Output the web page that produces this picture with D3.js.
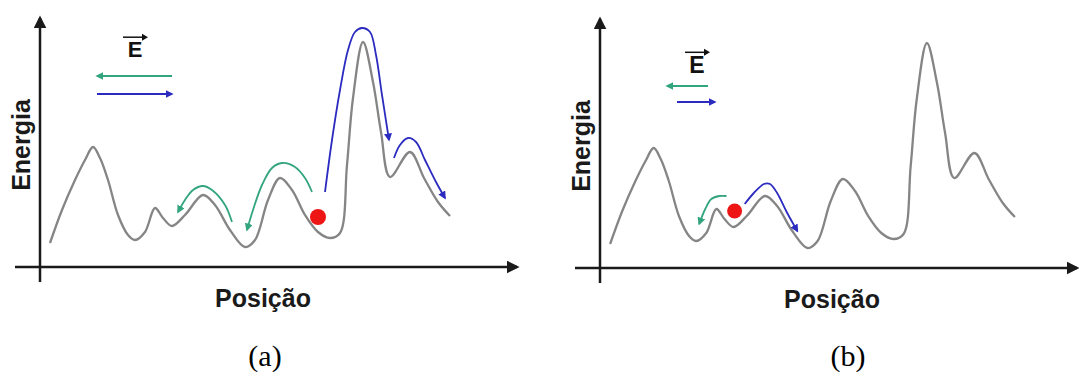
<!DOCTYPE html>
<html>
<head>
<meta charset="utf-8">
<script src="https://cdn.jsdelivr.net/npm/d3@7"></script>
<style>
  body { margin: 0; background: #fff; }
  svg { display: block; }
</style>
</head>
<body>
<svg id="chart" width="1079" height="372"></svg>
<script>
// energy profile shared by both panels (position, energy in arbitrary units)
var position = [10, 22, 35, 45, 53, 60, 68, 78, 88, 95, 105, 115, 123, 132, 145, 163, 175, 190, 205, 215,
                228, 240, 252, 265, 278, 290, 300, 307, 313, 323, 333, 341, 350, 370, 384, 398, 410];
var energy   = [24, 57, 87, 107, 120, 109, 87, 52, 32, 27, 35, 59, 49, 41, 52, 72, 62, 37, 20, 27,
                67, 89, 77, 52, 35, 29, 34, 102, 169, 225, 185, 135, 90, 115, 89, 65, 51];

// hopping paths (a)
var greenA1 = [[192,45],[185,62],[172,77],[163,81],[153,77],[145,67],[138,55]];
var greenA2 = [[272,75],[265,89],[255,100],[242,104],[232,99],[222,82],[213,57],[207,37]];
var blueA1  = [[285,75],[292,127],[300,177],[308,217],[315,235],[322,239],[330,235],[336,212],[342,172],[349,127]];
var blueA2  = [[354,109],[360,122],[368,129],[376,125],[385,107],[396,85],[405,69]];
var carrierA = [278, 50];

// hopping paths (b)
var greenB = [[125,72],[118,72],[110,69],[104,59],[98,44]];
var blueB  = [[143,64],[152,75],[162,84],[168,84],[175,75],[185,55],[195,37]];
var carrierB = [133, 57];

var panelLabels = ['(a)', '(b)'];
var xLabel = 'Posição';
var yLabel = 'Energia';

var GREEN = '#33a57e', BLUE = '#2b2bc0', GRAY = '#858585', RED = '#ee1515';

var svg = d3.select('#chart');
var defs = svg.append('defs');

function marker(id, color, size) {
    defs.append('marker')
        .attr('id', id)
        .attr('viewBox', '0 -5 10 10')
        .attr('refX', 8)
        .attr('markerWidth', size)
        .attr('markerHeight', size)
        .attr('markerUnits', 'userSpaceOnUse')
        .attr('orient', 'auto')
      .append('path')
        .attr('d', 'M0,-5L10,0L0,5Z')
        .attr('fill', color);
}
marker('head-axis', '#1a1a1a', 13);
marker('head-green', GREEN, 8);
marker('head-blue', BLUE, 8);

var profile = position.map(function(p, i) { return [p, energy[i]]; });

function drawPanel(cfg) {
    var x = d3.scaleLinear().domain([0, 440]).range([cfg.ox, cfg.ox + 440 * cfg.sx]);
    var y = d3.scaleLinear().domain([0, 250]).range([cfg.oy, cfg.oy - 250]);
    var g = svg.append('g');

    // axes
    g.append('line')
        .attr('x1', cfg.ox).attr('y1', cfg.oy + 15)
        .attr('x2', cfg.ox).attr('y2', cfg.oy - 249)
        .attr('stroke', '#1a1a1a').attr('stroke-width', 2.5)
        .attr('marker-end', 'url(#head-axis)');
    g.append('line')
        .attr('x1', cfg.ox - 25).attr('y1', cfg.oy)
        .attr('x2', cfg.ox + 477).attr('y2', cfg.oy)
        .attr('stroke', '#1a1a1a').attr('stroke-width', 2.5)
        .attr('marker-end', 'url(#head-axis)');

    g.append('text')
        .attr('transform', 'translate(' + (cfg.ox - 10) + ',' + (cfg.oy - 122) + ') rotate(-90)')
        .attr('text-anchor', 'middle')
        .attr('font-family', 'Liberation Sans, Arial, sans-serif')
        .attr('font-weight', 'bold')
        .attr('font-size', 25)
        .attr('fill', '#1a1a1a')
        .text(yLabel);
    g.append('text')
        .attr('x', cfg.xLabelX).attr('y', cfg.oy + 40)
        .attr('text-anchor', 'middle')
        .attr('font-family', 'Liberation Sans, Arial, sans-serif')
        .attr('font-weight', 'bold')
        .attr('font-size', 25)
        .attr('fill', '#1a1a1a')
        .text(xLabel);
    g.append('text')
        .attr('x', cfg.capX).attr('y', 366)
        .attr('text-anchor', 'middle')
        .attr('font-family', 'Liberation Serif, Times New Roman, serif')
        .attr('font-size', 30)
        .attr('fill', '#000')
        .text(cfg.caption);

    var line = d3.line()
        .x(function(d) { return x(d[0]); })
        .y(function(d) { return y(d[1]); })
        .curve(d3.curveCatmullRom.alpha(0.5));

    g.append('path')
        .datum(profile)
        .attr('d', line)
        .attr('fill', 'none')
        .attr('stroke', GRAY)
        .attr('stroke-width', 2.3)
        .attr('stroke-linejoin', 'round');

    cfg.paths.forEach(function(p) {
        g.append('path')
            .datum(p.pts)
            .attr('d', line)
            .attr('fill', 'none')
            .attr('stroke', p.color)
            .attr('stroke-width', 1.8)
            .attr('marker-end', 'url(#' + p.head + ')');
    });

    g.append('circle')
        .attr('cx', x(cfg.carrier[0]))
        .attr('cy', y(cfg.carrier[1]))
        .attr('r', cfg.r)
        .attr('fill', RED);

    // field legend
    var L = cfg.legend;
    g.append('text')
        .attr('x', L.ex).attr('y', L.ey)
        .attr('text-anchor', 'middle')
        .attr('font-family', 'Liberation Sans, Arial, sans-serif')
        .attr('font-weight', 'bold')
        .attr('font-size', L.size)
        .attr('fill', '#111')
        .text('E');
    g.append('line')
        .attr('x1', L.ex - 12).attr('x2', L.ex + 8)
        .attr('y1', L.ey - L.size * 0.9).attr('y2', L.ey - L.size * 0.9)
        .attr('stroke', '#111').attr('stroke-width', 1.5);
    g.append('path')
        .attr('d', 'M' + (L.ex + 13) + ',' + (L.ey - L.size * 0.9) + 'l-6,-3.5l0,7z')
        .attr('fill', '#111');
    g.append('line')
        .attr('x1', L.g[1]).attr('x2', L.g[0])
        .attr('y1', L.g[2]).attr('y2', L.g[2])
        .attr('stroke', GREEN).attr('stroke-width', 2)
        .attr('marker-end', 'url(#head-green)');
    g.append('line')
        .attr('x1', L.b[0]).attr('x2', L.b[1])
        .attr('y1', L.b[2]).attr('y2', L.b[2])
        .attr('stroke', BLUE).attr('stroke-width', 2)
        .attr('marker-end', 'url(#head-blue)');
}

drawPanel({
    ox: 40, oy: 267, sx: 1, xLabelX: 263, capX: 265, caption: panelLabels[0],
    carrier: carrierA, r: 8,
    paths: [
        {pts: greenA1, color: GREEN, head: 'head-green'},
        {pts: greenA2, color: GREEN, head: 'head-green'},
        {pts: blueA1, color: BLUE, head: 'head-blue'},
        {pts: blueA2, color: BLUE, head: 'head-blue'}
    ],
    legend: {ex: 135, ey: 57, size: 22, g: [97, 172, 76], b: [97, 172, 94]}
});

drawPanel({
    ox: 600, oy: 268, sx: 1.012, xLabelX: 832, capX: 848, caption: panelLabels[1],
    carrier: carrierB, r: 7.5,
    paths: [
        {pts: greenB, color: GREEN, head: 'head-green'},
        {pts: blueB, color: BLUE, head: 'head-blue'}
    ],
    legend: {ex: 697, ey: 73, size: 23, g: [667, 708, 86], b: [677, 715, 102]}
});
</script>
</body>
</html>
